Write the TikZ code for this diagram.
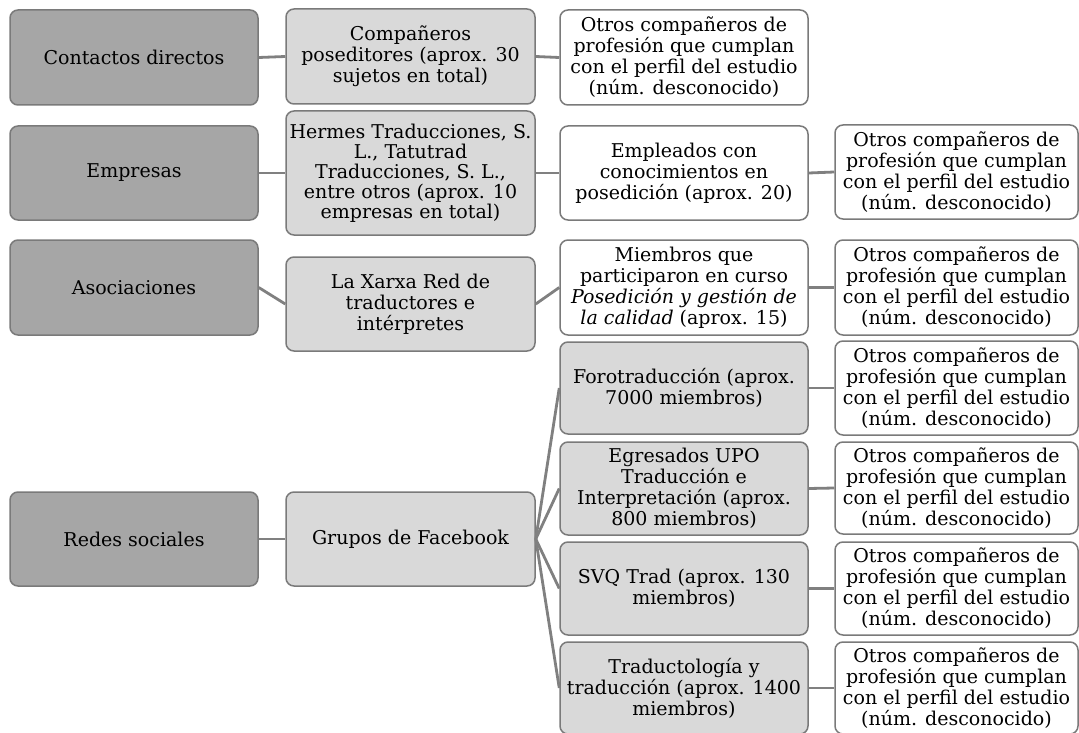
\documentclass[tikz,border=0pt]{standalone}
\usepackage{fontspec}
\setmainfont{DejaVu Serif}
\definecolor{darkfill}{HTML}{A6A6A6}
\definecolor{lightfill}{HTML}{D9D9D9}
\definecolor{boxline}{HTML}{7A7A7A}
\definecolor{connline}{HTML}{808080}
\tikzset{
  base/.style={draw=boxline, line width=1.5pt, rounded corners=8pt, align=center,
    inner sep=2pt, font=\fontsize{19}{21}\selectfont, text=black},
  darkbox/.style={base, fill=darkfill},
  lightbox/.style={base, fill=lightfill},
  whitebox/.style={base, fill=white},
  conn/.style={draw=connline, line width=2.8pt},
  sz/.style 2 args={minimum width=#1pt, minimum height=#2pt}
}
\begin{document}
\begin{tikzpicture}[x=1pt,y=-1pt]
\useasboundingbox (0,0) rectangle (1079,733);
\fill[white] (0,0) rectangle (1079,733);
% column 1
\node[darkbox, sz={248}{95}] (c1a) at (134,57.5) {Contactos directos};
\node[darkbox, sz={248}{94}] (c1b) at (134,173) {Empresas};
\node[darkbox, sz={248}{95}] (c1c) at (134,287.5) {Asociaciones};
\node[darkbox, sz={248}{94}] (c1d) at (134,539) {Redes sociales};
% column 2
\node[lightbox, sz={249}{95}] (c2a) at (410.5,56.5) {Compañeros\\poseditores (aprox. 30\\sujetos en total)};
\node[lightbox, sz={249}{124}, font=\fontsize{19}{20}\selectfont] (c2b) at (410.5,173) {Hermes Traducciones, S.\\L., Tatutrad\\Traducciones, S. L.,\\entre otros (aprox. 10\\empresas en total)};
\node[lightbox, sz={249}{94}] (c2c) at (410.5,304) {La Xarxa Red de\\traductores e\\intérpretes};
\node[lightbox, sz={249}{94}] (c2d) at (410.5,539) {Grupos de Facebook};
% column 3
\node[whitebox, sz={248}{95}] (c3a) at (684,57.5) {Otros compañeros de\\profesión que cumplan\\con el perfil del estudio\\(núm. desconocido)};
\node[whitebox, sz={248}{94}] (c3b) at (684,173) {Empleados con\\conocimientos en\\posedición (aprox. 20)};
\node[whitebox, sz={248}{95}] (c3c) at (684,287.5) {Miembros que\\participaron en curso\\\textit{Posedición y gestión de}\\\textit{la calidad} (aprox. 15)};
\node[lightbox, sz={248}{92}] (c3d1) at (684,388) {Forotraducción (aprox.\\7000 miembros)};
\node[lightbox, sz={248}{93}] (c3d2) at (684,488.5) {Egresados UPO\\Traducción e\\Interpretación (aprox.\\800 miembros)};
\node[lightbox, sz={248}{93}] (c3d3) at (684,588.5) {SVQ Trad (aprox. 130\\miembros)};
\node[lightbox, sz={248}{92}] (c3d4) at (684,688) {Traductología y\\traducción (aprox. 1400\\miembros)};
% column 4
\node[whitebox, sz={243}{94}] (c4b) at (956.5,172) {Otros compañeros de\\profesión que cumplan\\con el perfil del estudio\\(núm. desconocido)};
\node[whitebox, sz={243}{95}] (c4c) at (956.5,287.5) {Otros compañeros de\\profesión que cumplan\\con el perfil del estudio\\(núm. desconocido)};
\node[whitebox, sz={243}{94}] (c4d1) at (956.5,388) {Otros compañeros de\\profesión que cumplan\\con el perfil del estudio\\(núm. desconocido)};
\node[whitebox, sz={243}{92}] (c4d2) at (956.5,488) {Otros compañeros de\\profesión que cumplan\\con el perfil del estudio\\(núm. desconocido)};
\node[whitebox, sz={243}{93}] (c4d3) at (956.5,588.5) {Otros compañeros de\\profesión que cumplan\\con el perfil del estudio\\(núm. desconocido)};
\node[whitebox, sz={243}{92}] (c4d4) at (956.5,688) {Otros compañeros de\\profesión que cumplan\\con el perfil del estudio\\(núm. desconocido)};
% connectors
\draw[conn] (c1a.east) -- (c2a.west);
\draw[conn] (c2a.east) -- (c3a.west);
\draw[conn] (c1b.east) -- (c2b.west);
\draw[conn] (c2b.east) -- (c3b.west);
\draw[conn] (c3b.east) -- (c4b.west);
\draw[conn] (c1c.east) -- (c2c.west);
\draw[conn] (c2c.east) -- (c3c.west);
\draw[conn] (c3c.east) -- (c4c.west);
\draw[conn] (c1d.east) -- (c2d.west);
\draw[conn] (c2d.east) -- (c3d1.west);
\draw[conn] (c2d.east) -- (c3d2.west);
\draw[conn] (c2d.east) -- (c3d3.west);
\draw[conn] (c2d.east) -- (c3d4.west);
\draw[conn] (c3d1.east) -- (c4d1.west);
\draw[conn] (c3d2.east) -- (c4d2.west);
\draw[conn] (c3d3.east) -- (c4d3.west);
\draw[conn] (c3d4.east) -- (c4d4.west);
\end{tikzpicture}
\end{document}
